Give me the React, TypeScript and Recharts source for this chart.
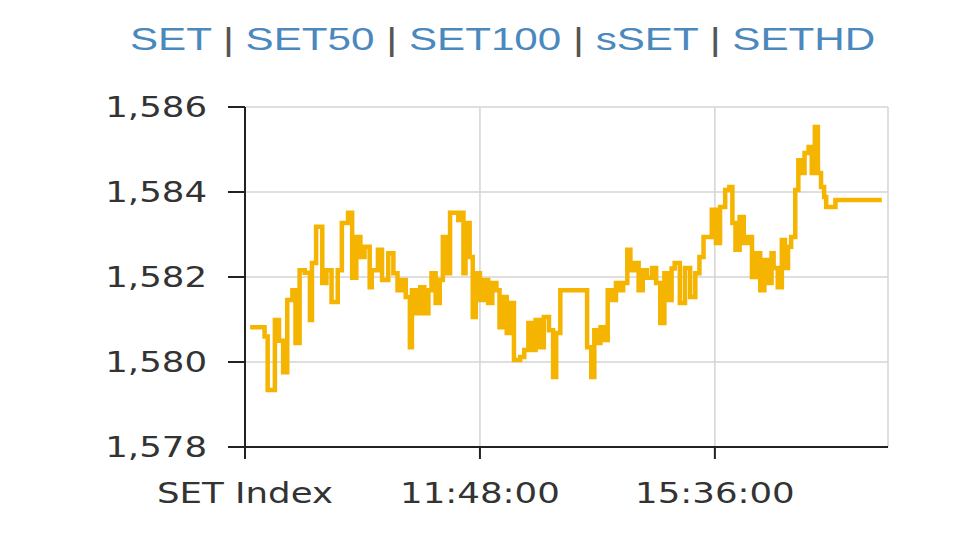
import { LineChart, Line, XAxis, YAxis, CartesianGrid } from 'recharts'

// minutes after 08:00 and index level
const minutes = [
  5, 17, 19, 22, 24, 29, 33, 37, 41, 46, 49, 53, 58, 63, 65, 69, 75, 79, 84, 90,
  94, 100, 104, 108, 112, 116, 121, 123, 129, 133, 139, 144, 148, 152, 156, 160, 162, 166, 170, 174,
  178, 181, 185, 189, 192, 196, 199, 207, 209, 212, 214, 218, 221, 224, 228, 232, 236, 240, 244, 247,
  251, 254, 257, 261, 267, 271, 275, 278, 282, 286, 290, 295, 299, 302, 306, 330, 332, 336, 339, 342,
  345, 349, 352, 356, 360, 364, 367, 371, 374, 378, 382, 386, 390, 395, 399, 403, 407, 410, 414, 417,
  422, 427, 432, 437, 441, 445, 449, 453, 457, 461, 466, 470, 473, 476, 480, 484, 488, 492, 496, 500,
  504, 507, 511, 513, 517, 521, 524, 527, 530, 534, 537, 540, 543, 547, 550, 553, 556, 559, 562, 564,
  570, 573, 618,
]
const setIndex = [
  1580.82, 1580.82, 1580.6, 1579.34, 1579.34, 1580.99, 1580.5, 1579.76, 1581.46, 1581.69, 1580.45, 1582.16, 1582.1, 1580.99, 1582.33, 1583.18, 1581.86, 1582.16, 1581.41, 1582.16,
  1583.27, 1583.51, 1581.98, 1582.94, 1582.47, 1582.71, 1581.76, 1582.16, 1582.64, 1581.93, 1582.56, 1582.09, 1581.69, 1581.93, 1581.53, 1580.35, 1581.69, 1581.15, 1581.76, 1581.15,
  1581.69, 1582.09, 1581.39, 1581.93, 1582.94, 1582.09, 1583.51, 1583.34, 1583.51, 1582.09, 1583.27, 1582.47, 1581.06, 1582.09, 1581.46, 1581.93, 1581.39, 1581.86, 1581.69, 1580.82,
  1581.53, 1580.68, 1581.39, 1580.05, 1580.12, 1580.28, 1580.92, 1580.28, 1580.99, 1580.35, 1581.06, 1580.75, 1579.65, 1580.68, 1581.69, 1581.69, 1580.35, 1579.65, 1580.75, 1580.45,
  1580.82, 1580.52, 1581.69, 1581.46, 1581.86, 1581.69, 1581.86, 1582.64, 1582.16, 1582.33, 1581.69, 1582.16, 1581.98, 1582.21, 1581.86, 1580.92, 1582.09, 1581.46, 1582.2, 1582.33,
  1581.39, 1582.21, 1581.53, 1582.09, 1582.47, 1582.94, 1582.94, 1583.58, 1582.8, 1583.65, 1584.05, 1584.12, 1583.27, 1582.64, 1583.41, 1582.8, 1582.94, 1582.0, 1582.56, 1581.69,
  1582.4, 1581.86, 1582.56, 1582.21, 1581.76, 1582.87, 1582.21, 1582.71, 1582.94, 1584.05, 1584.75, 1584.45, 1584.92, 1585.06, 1584.45, 1585.53, 1584.45, 1584.12, 1583.88, 1583.65,
  1583.65, 1583.81, 1583.81,
]
const xTicks = [0, 228, 456]
const yTicks = [1578, 1580, 1582, 1584, 1586]
const indexNames = ['SET', 'SET50', 'SET100', 'sSET', 'SETHD']

const data = minutes.map((m, i) => ({ t: m, v: setIndex[i] }))

const fmtTime = (m: number) => {
  if (m === 0) return 'SET Index'
  const total = 8 * 60 + m
  const hh = String(Math.floor(total / 60)).padStart(2, '0')
  const mm = String(total % 60).padStart(2, '0')
  return `${hh}:${mm}:00`
}

const XTick = ({ x, y, payload }: any) => (
  <text
    transform={`translate(${x},${y + 42}) scale(1.27,1)`}
    textAnchor="middle"
    fontFamily="DejaVu Sans"
    fontSize={28}
    fill="#333"
  >
    {fmtTime(payload.value)}
  </text>
)

const YTick = ({ x, y, payload }: any) => (
  <text
    transform={`translate(${x},${y + 10}) scale(1.27,1)`}
    textAnchor="end"
    fontFamily="DejaVu Sans"
    fontSize={28}
    fill="#333"
  >
    {payload.value.toLocaleString('en-US')}
  </text>
)

export default function App() {
  return (
    <div style={{ position: 'absolute', left: 0, top: 0, width: 960, height: 540, background: '#fff' }}>
      <div
        style={{
          position: 'absolute',
          left: 130,
          top: 22,
          fontFamily: 'Liberation Sans',
          fontSize: 31,
          whiteSpace: 'nowrap',
          transform: 'scaleX(1.36)',
          transformOrigin: 'left top',
          color: '#4a88bd',
        }}
      >
        {indexNames.map((n, i) => (
          <span key={n}>
            {i > 0 && <span style={{ color: '#555' }}> | </span>}
            {n}
          </span>
        ))}
      </div>
      <LineChart width={960} height={540} data={data} margin={{ top: 107, right: 72, bottom: 33, left: 0 }}>
        <CartesianGrid stroke="#d4d4d4" strokeWidth={1.5} />
        <XAxis
          dataKey="t"
          type="number"
          domain={[0, 624]}
          ticks={xTicks}
          height={60}
          tickSize={12}
          axisLine={{ stroke: '#222', strokeWidth: 2 }}
          tickLine={{ stroke: '#222', strokeWidth: 2 }}
          tick={<XTick />}
        />
        <YAxis
          type="number"
          domain={[1578, 1586]}
          ticks={yTicks}
          width={245}
          tickSize={17}
          tickMargin={21}
          axisLine={{ stroke: '#222', strokeWidth: 2 }}
          tickLine={{ stroke: '#222', strokeWidth: 2 }}
          tick={<YTick />}
        />
        <Line
          type="stepAfter"
          dataKey="v"
          stroke="#f5b400"
          strokeWidth={4.5}
          dot={false}
          isAnimationActive={false}
        />
      </LineChart>
    </div>
  )
}
